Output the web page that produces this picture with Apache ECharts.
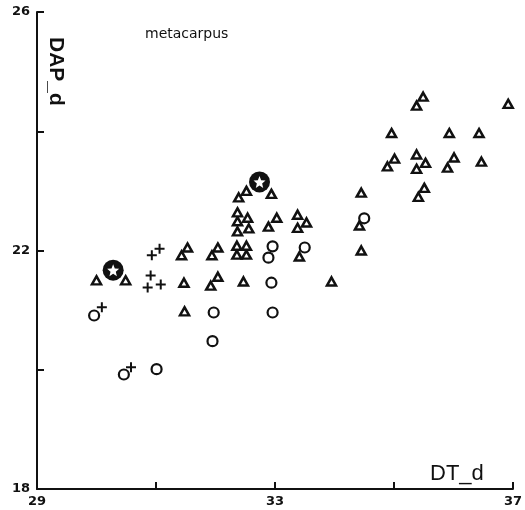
<!DOCTYPE html>
<html>
<head>
<meta charset="utf-8">
<script src="https://cdn.jsdelivr.net/npm/echarts@6/dist/echarts.min.js"></script>
<style>
  html, body { margin: 0; padding: 0; background: #fff; }
  #chart { width: 525px; height: 510px; }
</style>
</head>
<body>
<div id="chart"></div>
<script>
// DT_d, DAP_d pairs
var triangles = [
  [30.0, 21.50], [30.49, 21.50],
  [31.43, 21.92], [31.53, 22.05], [31.47, 21.46], [31.48, 20.98],
  [31.94, 21.92], [32.04, 22.05], [31.92, 21.41], [32.04, 21.56],
  [32.47, 21.48], [32.36, 21.93], [32.52, 21.93], [32.36, 22.08], [32.52, 22.08],
  [32.37, 22.32], [32.56, 22.37], [32.37, 22.49], [32.54, 22.55], [32.37, 22.64],
  [32.39, 22.89], [32.52, 23.00], [32.94, 22.95], [33.03, 22.55], [32.89, 22.40],
  [33.38, 22.60], [33.53, 22.47], [33.38, 22.38], [33.41, 21.90], [33.95, 21.48],
  [34.45, 22.97], [34.42, 22.42], [34.45, 22.00],
  [35.38, 24.43], [35.49, 24.58], [36.92, 24.46],
  [34.96, 23.97], [35.93, 23.97], [36.43, 23.97],
  [35.01, 23.54], [34.89, 23.41], [35.38, 23.61], [35.53, 23.47], [35.38, 23.37],
  [36.01, 23.56], [35.90, 23.39], [36.47, 23.49],
  [35.51, 23.05], [35.41, 22.90]
];
var circles = [
  [29.96, 20.91], [30.46, 19.92], [31.01, 20.01],
  [31.97, 20.96], [31.95, 20.48],
  [32.96, 22.07], [32.89, 21.88], [32.94, 21.46], [32.96, 20.96],
  [33.50, 22.05], [34.50, 22.54]
];
var crosses = [
  [30.93, 21.92], [31.06, 22.03], [30.91, 21.58], [30.86, 21.38], [31.08, 21.43],
  [30.09, 21.05], [30.58, 20.04]
];
var stars = [
  [30.28, 21.67], [32.74, 23.15]
];
var xTicks = [29, 33, 37];
var yTicks = [18, 22, 26];

var plusPath = 'path://M4,0H6V4H10V6H6V10H4V6H0V4H4Z';
var starPath = 'path://M5,0L6.29,3.22L9.76,3.45L7.09,5.68L7.94,9.05L5,7.2L2.06,9.05L2.91,5.68L0.24,3.45L3.71,3.22Z';

var labelFont = {
  color: '#111', fontFamily: 'DejaVu Sans', fontWeight: 'bold', fontSize: 13
};

var option = {
  animation: false,
  backgroundColor: '#fff',
  grid: { left: 37, right: 11, top: 12, bottom: 21 },
  xAxis: {
    type: 'value', min: 29, max: 37, interval: 2,
    axisLine: { lineStyle: { color: '#111', width: 2 } },
    axisTick: { inside: true, length: 7, lineStyle: { color: '#111', width: 2 } },
    splitLine: { show: false },
    axisLabel: Object.assign({
      margin: 6,
      formatter: function (v) { return xTicks.indexOf(v) >= 0 ? String(v) : ''; }
    }, labelFont)
  },
  yAxis: {
    type: 'value', min: 18, max: 26, interval: 2,
    axisLine: { lineStyle: { color: '#111', width: 2 } },
    axisTick: { inside: true, length: 7, lineStyle: { color: '#111', width: 2 } },
    splitLine: { show: false },
    axisLabel: Object.assign({
      margin: 7,
      formatter: function (v) { return yTicks.indexOf(v) >= 0 ? String(v) : ''; }
    }, labelFont)
  },
  graphic: [
    {
      type: 'text', left: 145, top: 27,
      style: { text: 'metacarpus', fill: '#111', font: '14px "DejaVu Sans"' }
    },
    {
      type: 'text', x: 66, y: 37, rotation: -Math.PI / 2,
      style: { text: 'DAP_d', fill: '#111', font: 'bold 21px "Liberation Sans"' }
    },
    {
      type: 'text', left: 430, top: 463,
      style: { text: 'DT_d', fill: '#111', font: '22px "Liberation Sans"' }
    }
  ],
  series: [
    {
      name: 'triangles', type: 'scatter', data: triangles,
      symbol: 'triangle', symbolSize: [9, 8],
      itemStyle: { color: '#fff', borderColor: '#111', borderWidth: 2.5, opacity: 1 }
    },
    {
      name: 'circles', type: 'scatter', data: circles,
      symbol: 'circle', symbolSize: 10,
      itemStyle: { color: '#fff', borderColor: '#111', borderWidth: 2.2, opacity: 1 }
    },
    {
      name: 'crosses', type: 'scatter', data: crosses,
      symbol: plusPath, symbolSize: 10,
      itemStyle: { color: '#111', opacity: 1 }
    },
    {
      name: 'starsBack', type: 'scatter', data: stars,
      symbol: 'circle', symbolSize: 21, z: 5,
      itemStyle: { color: '#111', opacity: 1 }
    },
    {
      name: 'stars', type: 'scatter', data: stars,
      symbol: starPath, symbolSize: 12, z: 6,
      itemStyle: { color: '#fff', opacity: 1 }
    }
  ]
};

var myChart = echarts.init(document.getElementById('chart'));
myChart.setOption(option);
</script>
</body>
</html>
